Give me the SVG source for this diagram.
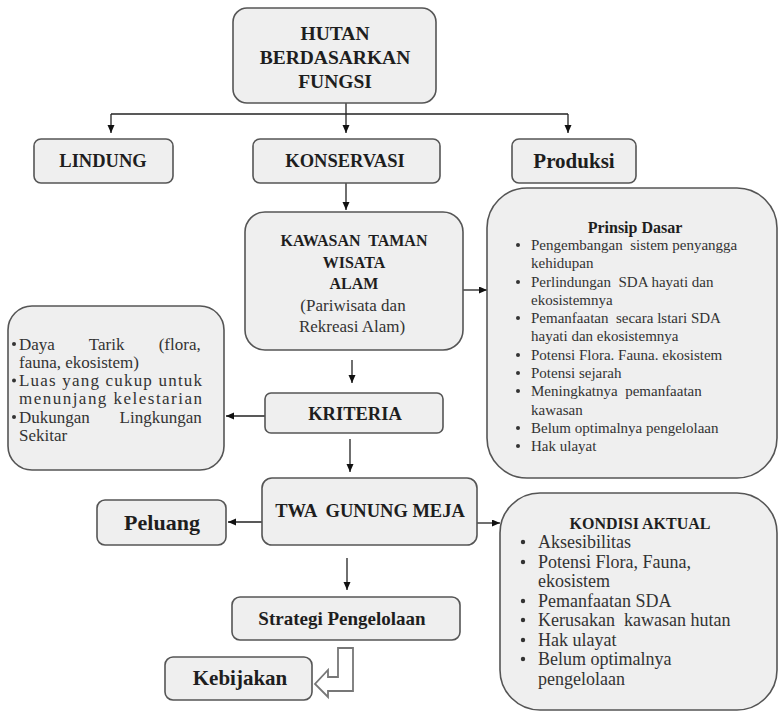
<svg xmlns="http://www.w3.org/2000/svg" width="780" height="714" viewBox="0 0 780 714">
<defs>
<marker id="ah" markerUnits="userSpaceOnUse" markerWidth="9" markerHeight="8" refX="8" refY="3.5" orient="auto">
<path d="M0,0 L8,3.5 L0,7 z" fill="#111"/>
</marker>
<style>
.box{fill:#efefef;stroke:#555;stroke-width:1.6}
.hd{font-family:"Liberation Serif","DejaVu Serif",serif;font-weight:bold;fill:#1e1e1e;dominant-baseline:central}
.tx{font-family:"Liberation Serif","DejaVu Serif",serif;fill:#333;dominant-baseline:central}
.c{text-anchor:middle}
.pre{white-space:pre}
.con{stroke:#222;stroke-width:1.3;fill:none}
.bul{fill:#333}
.pl{font-size:15px}
.kl{font-size:18px}
.cl{font-size:17px}
</style>
</defs>
<rect width="780" height="714" fill="#fff"/>

<g id="connectors">
<path class="con" d="M111,114 H568"/>
<path class="con" d="M346,103 V133" marker-end="url(#ah)"/>
<path class="con" d="M111,114 V133" marker-end="url(#ah)"/>
<path class="con" d="M568,114 V133" marker-end="url(#ah)"/>
<path class="con" d="M346,183 V210" marker-end="url(#ah)"/>
<path class="con" d="M463,290 H487" marker-end="url(#ah)"/>
<path class="con" d="M352,360 V383" marker-end="url(#ah)"/>
<path class="con" d="M265,416 H226" marker-end="url(#ah)"/>
<path class="con" d="M350,439 V472" marker-end="url(#ah)"/>
<path class="con" d="M262,522 H228" marker-end="url(#ah)"/>
<path class="con" d="M477,523 H500" marker-end="url(#ah)"/>
<path class="con" d="M347,558 V590" marker-end="url(#ah)"/>
<polygon points="338,648 353,648 353,691 328,691 328,697 315,684 328,670 328,677 338,677" fill="#fff" stroke="#777" stroke-width="1.8"/>
</g>

<g id="hutan">
<rect class="box" x="233" y="8" width="203" height="95" rx="14"/>
<text class="hd c" x="335" y="33" font-size="19.5">HUTAN</text>
<text class="hd c" x="335" y="57" font-size="19.5">BERDASARKAN</text>
<text class="hd c" x="335" y="81" font-size="19.5">FUNGSI</text>
</g>

<g id="lindung">
<rect class="box" x="34" y="139" width="139" height="44" rx="7"/>
<text class="hd c" x="103" y="161" font-size="18.5">LINDUNG</text>
</g>

<g id="konservasi">
<rect class="box" x="253" y="139" width="187" height="44" rx="7"/>
<text class="hd c" x="345" y="161" font-size="18.5">KONSERVASI</text>
</g>

<g id="produksi">
<rect class="box" x="512" y="139" width="124" height="44" rx="7"/>
<text class="hd c" x="574" y="161" font-size="21">Produksi</text>
</g>

<g id="kawasan">
<rect class="box" x="245" y="212" width="218" height="138" rx="20"/>
<text class="hd c pre" x="354" y="240" font-size="16">KAWASAN  TAMAN</text>
<text class="hd c" x="354" y="262" font-size="16">WISATA</text>
<text class="hd c" x="354" y="283" font-size="16">ALAM</text>
<text class="tx c" x="353" y="305" font-size="17">(Pariwisata dan</text>
<text class="tx c" x="352" y="326" font-size="17">Rekreasi Alam)</text>
</g>

<g id="prinsip">
<rect class="box" x="487" y="188" width="290" height="290" rx="40"/>
<text class="hd c" x="635" y="227" font-size="16">Prinsip Dasar</text>
<g class="bul">
<circle cx="518" cy="245" r="2"/><circle cx="518" cy="282" r="2"/><circle cx="518" cy="318" r="2"/><circle cx="518" cy="355" r="2"/><circle cx="518" cy="373" r="2"/><circle cx="518" cy="391" r="2"/><circle cx="518" cy="428" r="2"/><circle cx="518" cy="446" r="2"/>
</g>
<text class="tx pl pre" x="531" y="245">Pengembangan  sistem penyangga</text>
<text class="tx pl" x="531" y="263">kehidupan</text>
<text class="tx pl pre" x="531" y="282">Perlindungan  SDA hayati dan</text>
<text class="tx pl" x="531" y="300">ekosistemnya</text>
<text class="tx pl pre" x="531" y="318">Pemanfaatan  secara lstari SDA</text>
<text class="tx pl" x="531" y="336">hayati dan ekosistemnya</text>
<text class="tx pl" x="531" y="355">Potensi Flora. Fauna. ekosistem</text>
<text class="tx pl" x="531" y="373">Potensi sejarah</text>
<text class="tx pl pre" x="531" y="391">Meningkatnya  pemanfaatan</text>
<text class="tx pl" x="531" y="410">kawasan</text>
<text class="tx pl" x="531" y="428">Belum optimalnya pengelolaan</text>
<text class="tx pl" x="531" y="446">Hak ulayat</text>
</g>

<g id="kriteria-list">
<rect class="box" x="8" y="306" width="216" height="164" rx="24"/>
<g class="bul">
<circle cx="14" cy="344" r="2"/><circle cx="14" cy="380.5" r="2"/><circle cx="14" cy="417" r="2"/>
</g>
<text class="tx cl" x="19" y="344" word-spacing="30">Daya Tarik (flora,</text>
<text class="tx cl" x="19" y="362">fauna, ekosistem)</text>
<text class="tx cl" x="19" y="380.5" textLength="183" lengthAdjust="spacing">Luas yang cukup untuk</text>
<text class="tx cl" x="19" y="398.5" textLength="183" lengthAdjust="spacing">menunjang kelestarian</text>
<text class="tx cl" x="19" y="417" word-spacing="25.5">Dukungan Lingkungan</text>
<text class="tx cl" x="19" y="435">Sekitar</text>
</g>

<g id="kriteria">
<rect class="box" x="265" y="393" width="178" height="40" rx="6"/>
<text class="hd c" x="355" y="414" font-size="18.5">KRITERIA</text>
</g>

<g id="twa">
<rect class="box" x="262" y="478" width="215" height="67" rx="10"/>
<text class="hd c pre" x="370" y="511" font-size="18.5">TWA  GUNUNG MEJA</text>
</g>

<g id="peluang">
<rect class="box" x="97" y="500" width="129" height="45" rx="8"/>
<text class="hd c" x="162" y="522" font-size="22">Peluang</text>
</g>

<g id="kondisi">
<rect class="box" x="500" y="493" width="277" height="217" rx="40"/>
<text class="hd c" x="640" y="523" font-size="16">KONDISI AKTUAL</text>
<g class="bul">
<circle cx="523" cy="542" r="2.2"/><circle cx="523" cy="562" r="2.2"/><circle cx="523" cy="601" r="2.2"/><circle cx="523" cy="620" r="2.2"/><circle cx="523" cy="640" r="2.2"/><circle cx="523" cy="659" r="2.2"/>
</g>
<text class="tx kl" x="538" y="542">Aksesibilitas</text>
<text class="tx kl" x="538" y="562">Potensi Flora, Fauna,</text>
<text class="tx kl" x="538" y="581">ekosistem</text>
<text class="tx kl" x="538" y="601">Pemanfaatan SDA</text>
<text class="tx kl pre" x="538" y="620">Kerusakan  kawasan hutan</text>
<text class="tx kl" x="538" y="640">Hak ulayat</text>
<text class="tx kl" x="538" y="659">Belum optimalnya</text>
<text class="tx kl" x="538" y="679">pengelolaan</text>
</g>

<g id="strategi">
<rect class="box" x="232" y="597" width="228" height="43" rx="8"/>
<text class="hd c" x="342" y="618" font-size="19">Strategi Pengelolaan</text>
</g>

<g id="kebijakan">
<rect class="box" x="165" y="657" width="147" height="43" rx="8"/>
<text class="hd c" x="240" y="678" font-size="21">Kebijakan</text>
</g>
</svg>
